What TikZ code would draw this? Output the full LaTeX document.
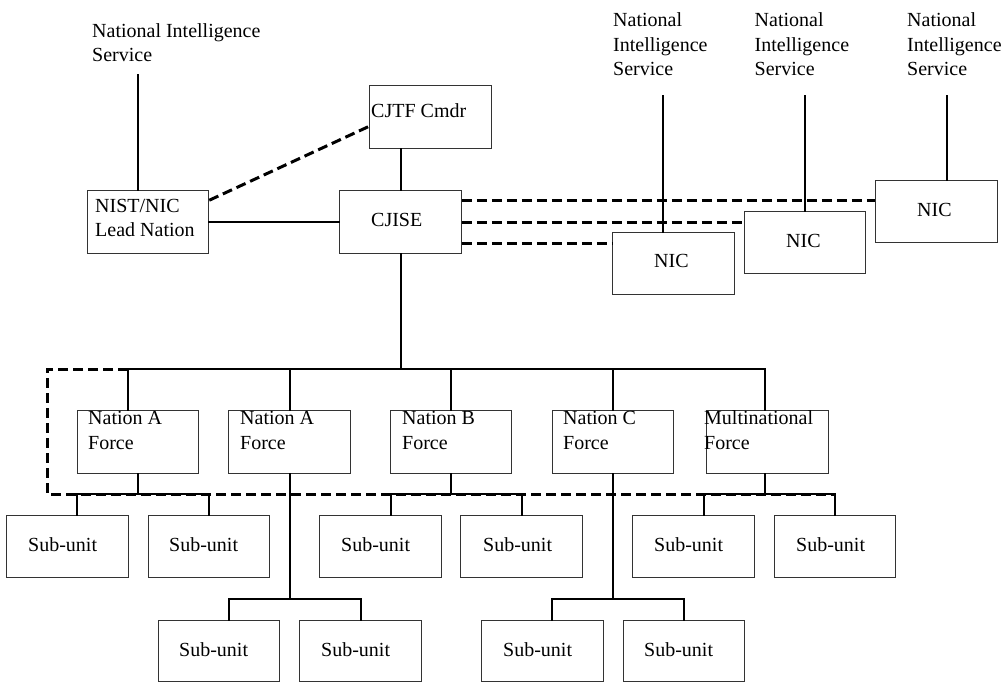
\documentclass[tikz,border=0pt]{standalone}
\usepackage{fontspec}
\setmainfont{Liberation Serif}
\usetikzlibrary{calc}
\begin{document}
\begin{tikzpicture}[x=1pt,y=-1pt,
  box/.style={rectangle, draw=black!80, line width=1pt, inner sep=0pt, minimum width=121.5pt, minimum height=62.5pt},
  lbl/.style={anchor=base west, inner sep=0pt, align=left, font=\fontsize{20}{24.5}\selectfont},
  conn/.style={line width=2pt, line cap=rect},
  dashline/.style={line width=3pt, dash pattern=on 10pt off 5pt}
]
\useasboundingbox (0,0) rectangle (1003,683);

% boxes
\node[box] (nist)  at (148,222) {};
\node[box] (cjtf)  at (430.5,117) {};
\node[box] (cjise) at (400.5,222) {};
\node[box] (nic1)  at (673.5,263.5) {};
\node[box] (nic2)  at (805,242.5) {};
\node[box] (nic3)  at (936.5,211.5) {};

\node[box] (f1) at (138,442) {};
\node[box] (f2) at (289.5,442) {};
\node[box] (f3) at (451,442) {};
\node[box] (f4) at (613,442) {};
\node[box] (f5) at (767.5,442) {};

\node[box] (s1) at (67.5,546.5) {};
\node[box] (s2) at (209,546.5) {};
\node[box] (s3) at (380.5,546.5) {};
\node[box] (s4) at (521.5,546.5) {};
\node[box] (s5) at (693.5,546.5) {};
\node[box] (s6) at (835,546.5) {};

\node[box, minimum height=61pt] (s7)  at (219,650.5) {};
\node[box, minimum height=61pt] (s8)  at (360.5,650.5) {};
\node[box, minimum height=61pt] (s9)  at (542.5,650.5) {};
\node[box, minimum height=61pt] (s10) at (684,650.5) {};

% labels (anchor = baseline of the last line)
\node[lbl] (tnisl) at (92,61.5) {National Intelligence\\Service};
\node[lbl] (tnis1) at (613,75.5) {National\\Intelligence\\Service};
\node[lbl] (tnis2) at (754.5,75.5) {National\\Intelligence\\Service};
\node[lbl] (tnis3) at (907,75.5) {National\\Intelligence\\Service};
\node[lbl] (tnist) at (95,236.5) {NIST/NIC\\Lead Nation};
\node[lbl] (tcjtf) at (371,117) {CJTF Cmdr};
\node[lbl] (tcjise) at (371,226) {CJISE};
\node[lbl] (tnic1) at (654,267) {NIC};
\node[lbl] (tnic2) at (786,247) {NIC};
\node[lbl] (tnic3) at (917,216) {NIC};
\node[lbl] (tf1) at (88,449) {Nation A\\Force};
\node[lbl] (tf2) at (240,449) {Nation A\\Force};
\node[lbl] (tf3) at (402,449) {Nation B\\Force};
\node[lbl] (tf4) at (563,449) {Nation C\\Force};
\node[lbl] (tf5) at (704,449) {Multinational\\Force};
\node[lbl] (ts1) at (28,551) {Sub-unit};
\node[lbl] (ts2) at (169,551) {Sub-unit};
\node[lbl] (ts3) at (341,551) {Sub-unit};
\node[lbl] (ts4) at (483,551) {Sub-unit};
\node[lbl] (ts5) at (654,551) {Sub-unit};
\node[lbl] (ts6) at (796,551) {Sub-unit};
\node[lbl] (ts7) at (179,656) {Sub-unit};
\node[lbl] (ts8) at (321,656) {Sub-unit};
\node[lbl] (ts9) at (503,656) {Sub-unit};
\node[lbl] (ts10) at (644,656) {Sub-unit};

% coordinates
\coordinate (nisl) at (138,75);
\coordinate (nisr1) at (663,96);
\coordinate (nisr2) at (805,96);
\coordinate (nisr3) at (947,96);
\coordinate (busL) at (128,369);
\coordinate (busR) at (765,369);
\coordinate (r1) at (0,494);
\coordinate (r2) at (0,599);
\coordinate (a1) at (77,494);
\coordinate (a3) at (391,494);
\coordinate (a5) at (704,494);
\coordinate (a2) at (229,599);
\coordinate (a4) at (552,599);
\coordinate (dA) at (47,369);
\coordinate (dB) at (47,494);
\coordinate (c1) at ($(cjise.north east)+(0,10)$);
\coordinate (c3) at ($(cjise.south east)+(0,-10)$);

% dashed connectors
\draw[dashline] ($(nist.north east)+(0,10)$) -- ($(cjtf.north west)+(0,41)$);
\draw[dashline] (c1) -- (c1 -| nic3.west);
\draw[dashline] (cjise.east) -- (cjise.east -| nic2.west);
\draw[dashline] (c3) -- (c3 -| nic1.west);
\draw[dashline] (busL) -- (dA) -- (dB) -- (s6.north |- r1);

% solid connectors
\draw[conn] (nisl) -- (nisl |- nist.north);
\draw[conn] (nist.east) -- (cjise.west);
\draw[conn] (cjise.north) -- (cjise.north |- cjtf.south);
\draw[conn] (nisr1) -- (nisr1 |- nic1.north);
\draw[conn] (nisr2) -- (nisr2 |- nic2.north);
\draw[conn] (nisr3) -- (nisr3 |- nic3.north);

\draw[conn] (cjise.south) -- (cjise.south |- busL);
\draw[conn] (busL) -- (busR);
\draw[conn] (busL) -- (busL |- f1.north);
\draw[conn] (f2.north |- busL) -- (f2.north);
\draw[conn] (f3.north |- busL) -- (f3.north);
\draw[conn] (f4.north |- busL) -- (f4.north);
\draw[conn] (busR) -- (busR |- f5.north);

\draw[conn] (f1.south) -- (f1.south |- r1);
\draw[conn] (a1 |- s1.north) -- (a1) -- (a1 -| s2.north) -- (s2.north);
\draw[conn] (f3.south) -- (f3.south |- r1);
\draw[conn] (a3 |- s3.north) -- (a3) -- (a3 -| s4.north) -- (s4.north);
\draw[conn] (busR |- f5.south) -- (busR |- r1);
\draw[conn] (a5 |- s5.north) -- (a5) -- (a5 -| s6.north) -- (s6.north);

\draw[conn] (f2.south) -- (f2.south |- r2);
\draw[conn] (a2 |- s7.north) -- (a2) -- (a2 -| s8.north) -- (s8.north);
\draw[conn] (f4.south) -- (f4.south |- r2);
\draw[conn] (a4 |- s9.north) -- (a4) -- (a4 -| s10.north) -- (s10.north);
\end{tikzpicture}
\end{document}
